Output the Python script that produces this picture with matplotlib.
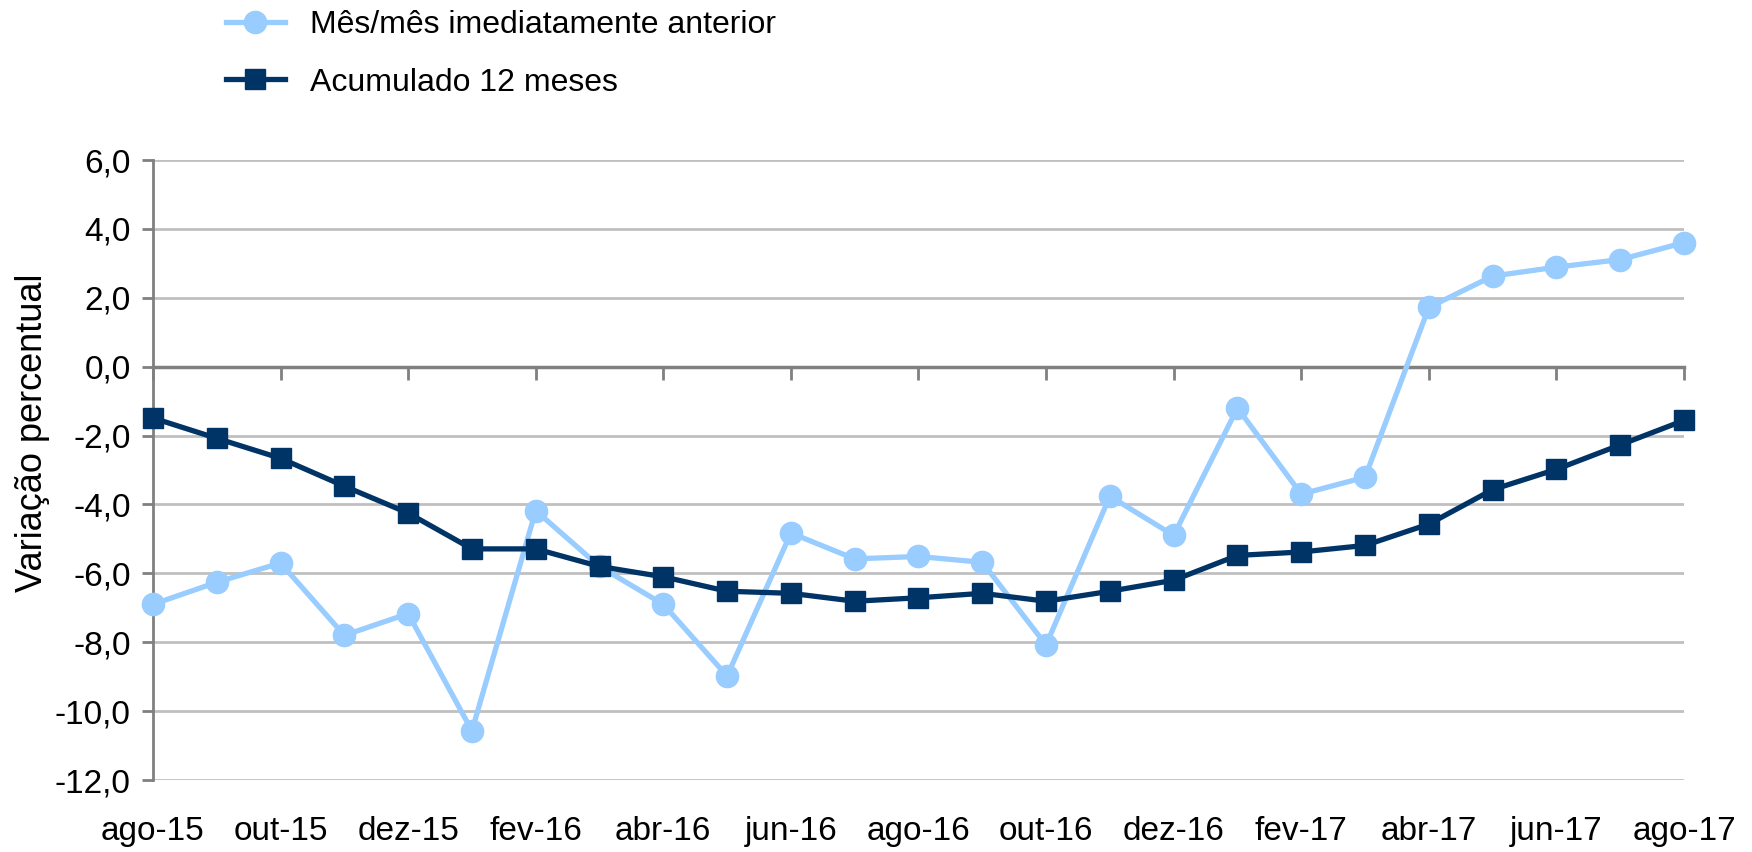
import matplotlib
matplotlib.use("Agg")
import matplotlib.pyplot as plt

plt.rcParams['font.family'] = ['Liberation Sans', 'DejaVu Sans']

months = ["ago-15", "set-15", "out-15", "nov-15", "dez-15", "jan-16", "fev-16", "mar-16",
          "abr-16", "mai-16", "jun-16", "jul-16", "ago-16", "set-16", "out-16", "nov-16",
          "dez-16", "jan-17", "fev-17", "mar-17", "abr-17", "mai-17", "jun-17", "jul-17", "ago-17"]

mes_mes = [-6.9, -6.26, -5.7, -7.8, -7.17, -10.57, -4.18, -5.8, -6.9, -8.98, -4.83, -5.58,
           -5.51, -5.68, -8.08, -3.76, -4.9, -1.2, -3.7, -3.21, 1.72, 2.63, 2.89, 3.11, 3.6]

acum_12 = [-1.49, -2.08, -2.66, -3.47, -4.25, -5.29, -5.29, -5.8, -6.1, -6.52, -6.58, -6.81,
           -6.71, -6.58, -6.81, -6.52, -6.2, -5.48, -5.38, -5.19, -4.57, -3.57, -2.98, -2.27, -1.56]

yticks = [6, 4, 2, 0, -2, -4, -6, -8, -10, -12]

light = "#99CCFF"
dark = "#003366"

fig = plt.figure(figsize=(17.52, 8.52), dpi=100)
ax = fig.add_axes([0.0873, 0.0845, 0.9612 - 0.0873, 0.8122 - 0.0845])

x = list(range(len(months)))
ax.plot(x, mes_mes, color=light, lw=3.8, marker='o', ms=16, mec=light, mfc=light,
        label="Mês/mês imediatamente anterior", zorder=3, clip_on=False)
ax.plot(x, acum_12, color=dark, lw=3.8, marker='s', ms=15, mec=dark, mfc=dark,
        label="Acumulado 12 meses", zorder=4, clip_on=False)

ymin, ymax = -12, 6
ax.set_xlim(0, len(months) - 1)
ax.set_ylim(ymin, ymax)
ax.set_yticks(yticks)
ax.set_yticklabels([f"{v:.1f}".replace(".", ",") for v in yticks], fontsize=24)
ax.yaxis.grid(True, color="#C0C0C0", lw=2)
ax.set_axisbelow(True)

for s in ["top", "right"]:
    ax.spines[s].set_visible(False)
ax.spines["left"].set_color("#808080")
ax.spines["left"].set_linewidth(2)
ax.tick_params(axis='y', length=8, width=2, color="#808080", pad=8)

# main x axis: line at zero with downward tick marks, no labels
tick_pos = x[::2]
ax.spines["bottom"].set_position(("data", 0))
ax.spines["bottom"].set_color("#808080")
ax.spines["bottom"].set_linewidth(2.5)
ax.set_xticks(tick_pos)
ax.tick_params(axis='x', direction='out', length=9, width=2, color="#808080",
               labelbottom=False)

# month labels at the bottom of the plot area
sec = ax.secondary_xaxis('bottom')
sec.set_xticks(tick_pos)
sec.set_xticklabels(months[::2], fontsize=24)
sec.tick_params(axis='x', length=0, pad=26)
sec.spines["bottom"].set_visible(False)

ax.set_ylabel("Variação percentual", fontsize=26)
ax.yaxis.set_label_coords(-0.067, 0.56)

fig.legend(loc="upper left", bbox_to_anchor=(0.116, 1.014), frameon=False, fontsize=23,
           handlelength=1.85, handletextpad=0.8, labelspacing=0.85, borderpad=0.2)

fig.savefig("out.png", dpi=100)
